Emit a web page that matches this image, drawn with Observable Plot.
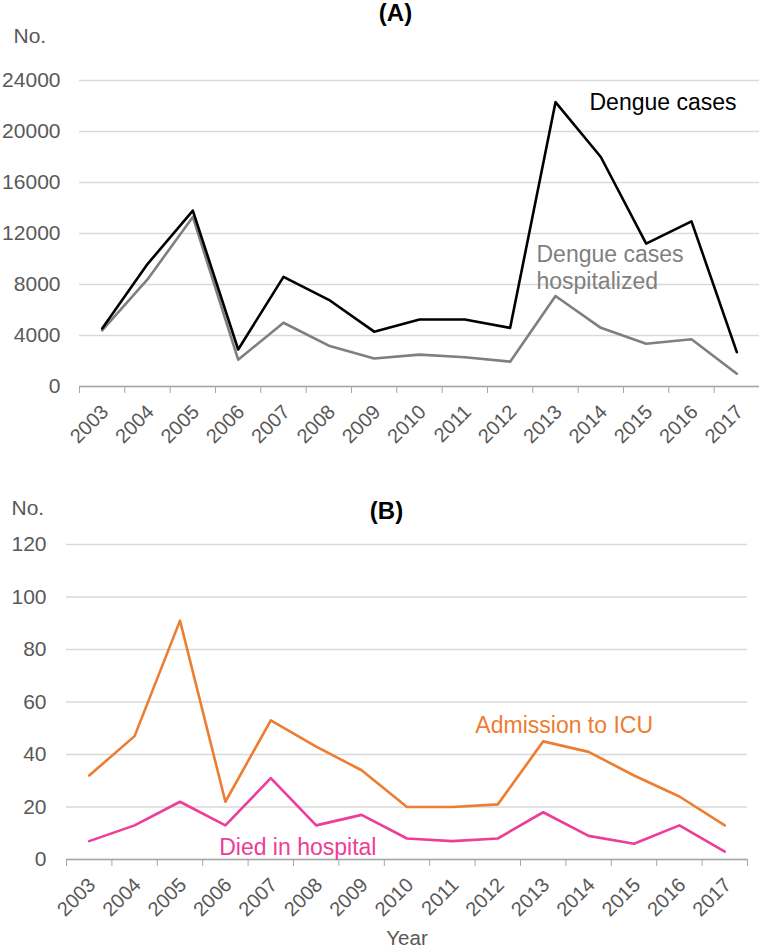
<!DOCTYPE html>
<html>
<head>
<meta charset="utf-8">
<script src="https://cdn.jsdelivr.net/npm/d3@7"></script>
<script src="https://cdn.jsdelivr.net/npm/@observablehq/plot@0.6"></script>
<style>
  html, body { margin: 0; padding: 0; background: #fff; }
  #chart { width: 759px; }
  #chart svg { display: block; }
</style>
</head>
<body>
<div id="chart"></div>
<script>
// ---- Data ----
const years = [2003, 2004, 2005, 2006, 2007, 2008, 2009, 2010, 2011, 2012, 2013, 2014, 2015, 2016, 2017];
const dengueCases = [4550, 9600, 13800, 2900, 8600, 6800, 4300, 5250, 5250, 4600, 22300, 18000, 11200, 12950, 2700];
const dengueHospitalized = [4400, 8400, 13300, 2100, 5000, 3200, 2200, 2500, 2300, 1950, 7100, 4600, 3350, 3700, 1000];
const icuAdmissions = [32, 47, 91, 22, 53, 43, 34, 20, 20, 21, 45, 41, 32, 24, 13];
const hospitalDeaths = [7, 13, 22, 13, 31, 13, 17, 8, 7, 8, 18, 9, 6, 13, 3];
const yTicksA = [0, 4000, 8000, 12000, 16000, 20000, 24000];
const yTicksB = [0, 20, 40, 60, 80, 100, 120];

const FONT = "'Liberation Sans', Arial, Helvetica, sans-serif";
const TXT = "#595959";
const GRID = "#d9d9d9";
const AXIS = "#a6a6a6";

const bounds = years.map(y => y - 0.5).concat([years[years.length - 1] + 0.5]);
const xDomain = [bounds[0], bounds[bounds.length - 1]];

const seriesA1 = years.map((y, i) => ({year: y, value: dengueCases[i]}));
const seriesA2 = years.map((y, i) => ({year: y, value: dengueHospitalized[i]}));
const seriesB1 = years.map((y, i) => ({year: y, value: icuAdmissions[i]}));
const seriesB2 = years.map((y, i) => ({year: y, value: hospitalDeaths[i]}));

function xAxes() {
  return [
    Plot.axisX(bounds, {tickSize: 7, tickFormat: () => "", stroke: AXIS, strokeOpacity: 1, label: null}),
    Plot.axisX(years, {tickSize: 0, tickPadding: 22, tickRotate: -45, tickFormat: d => String(d),
      fontSize: 20, fill: TXT, label: null, dx: 3})
  ];
}

const plotA = Plot.plot({
  width: 759, height: 460,
  marginLeft: 79, marginRight: 0, marginTop: 80, marginBottom: 74,
  style: {fontFamily: FONT, background: "#fff"},
  x: {domain: xDomain},
  y: {domain: [0, 24000]},
  marks: [
    Plot.gridY(yTicksA, {stroke: GRID, strokeOpacity: 1, strokeWidth: 1.3}),
    Plot.axisY(yTicksA, {tickSize: 0, tickPadding: 19, fontSize: 21, fill: TXT, label: null, tickFormat: d => String(d)}),
    ...xAxes(),
    Plot.ruleY([0], {stroke: AXIS, strokeWidth: 1.3}),
    Plot.line(seriesA2, {x: "year", y: "value", stroke: "#7f7f7f", strokeWidth: 2.6}),
    Plot.line(seriesA1, {x: "year", y: "value", stroke: "#000000", strokeWidth: 2.6}),
    Plot.text(["Dengue cases"], {x: 2013, y: 22300, dx: 34, textAnchor: "start", fontSize: 23, fill: "#000"}),
    Plot.text(["Dengue cases\nhospitalized"], {x: 2013, y: 9400, dx: -19, textAnchor: "start", lineAnchor: "middle", lineHeight: 1.17, fontSize: 23, fill: "#7f7f7f"}),
    Plot.text(["No."], {frameAnchor: "top-left", dx: -66, dy: -44, textAnchor: "start", lineAnchor: "middle", fontSize: 21, fill: TXT}),
    Plot.text(["(A)"], {frameAnchor: "top", dx: -24, dy: -67, lineAnchor: "middle", fontSize: 24, fontWeight: "bold", fill: "#000"})
  ]
});

const plotB = Plot.plot({
  width: 759, height: 488,
  marginLeft: 66, marginRight: 12, marginTop: 84, marginBottom: 89,
  style: {fontFamily: FONT, background: "#fff"},
  x: {domain: xDomain},
  y: {domain: [0, 120]},
  marks: [
    Plot.gridY(yTicksB, {stroke: GRID, strokeOpacity: 1, strokeWidth: 1.3}),
    Plot.axisY(yTicksB, {tickSize: 0, tickPadding: 20, fontSize: 21, fill: TXT, label: null}),
    ...xAxes(),
    Plot.ruleY([0], {stroke: AXIS, strokeWidth: 1.3}),
    Plot.line(seriesB1, {x: "year", y: "value", stroke: "#ED7D31", strokeWidth: 2.6}),
    Plot.line(seriesB2, {x: "year", y: "value", stroke: "#EC3D97", strokeWidth: 2.6}),
    Plot.text(["Admission to ICU"], {x: 2013, y: 51, dx: 21, textAnchor: "middle", lineAnchor: "middle", fontSize: 23, fill: "#ED7D31"}),
    Plot.text(["Died in hospital"], {x: 2007, y: 4.6, dx: 27, textAnchor: "middle", lineAnchor: "middle", fontSize: 23, fill: "#EC3D97"}),
    Plot.text(["No."], {frameAnchor: "top-left", dx: -55, dy: -36, textAnchor: "start", lineAnchor: "middle", fontSize: 21, fill: TXT}),
    Plot.text(["(B)"], {frameAnchor: "top", dx: -20.5, dy: -33, lineAnchor: "middle", fontSize: 24, fontWeight: "bold", fill: "#000"}),
    Plot.text(["Year"], {frameAnchor: "bottom", dy: 79, lineAnchor: "middle", fontSize: 20.5, fill: TXT})
  ]
});

const chart = document.getElementById("chart");
chart.appendChild(plotA);
chart.appendChild(plotB);
</script>
</body>
</html>
